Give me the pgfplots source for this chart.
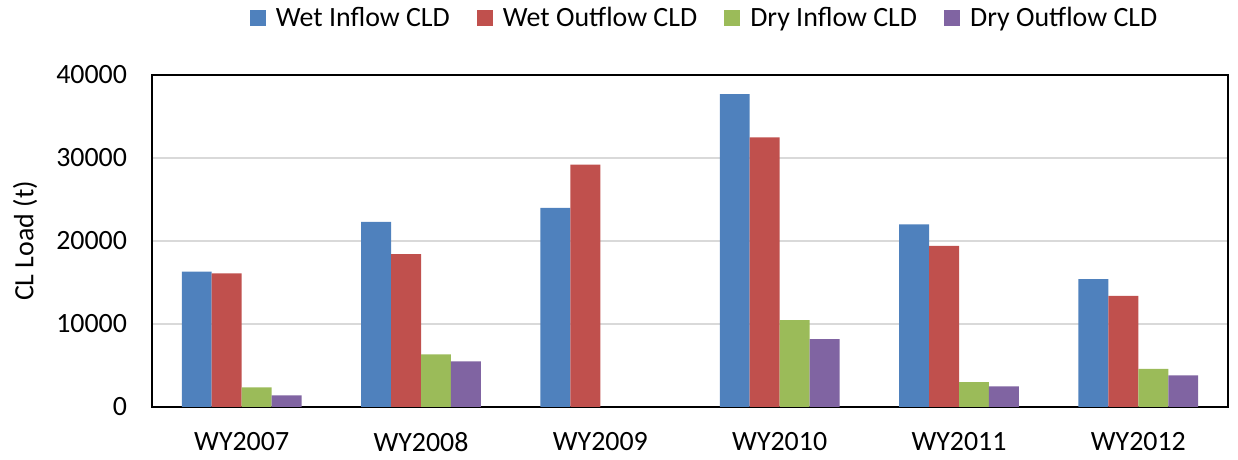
\documentclass[border=0pt]{standalone}
\usepackage{fontspec}
\setmainfont{Carlito}
\usepackage{pgfplots}
\pgfplotsset{compat=1.18}
\definecolor{cBlue}{HTML}{4F81BD}
\definecolor{cRed}{HTML}{C0504D}
\definecolor{cGreen}{HTML}{9BBB59}
\definecolor{cPurple}{HTML}{8064A2}
\definecolor{cGrid}{HTML}{D9D9D9}
\begin{document}
\begin{tikzpicture}
\begin{axis}[
  at={(0,0)}, anchor=south west,
  scale only axis,
  width=538bp, height=166bp,
  xmin=-0.5, xmax=5.5,
  ymin=0, ymax=40000,
  ytick={0,10000,20000,30000,40000},
  xtick={0,1,2,3,4,5},
  xticklabels={WY2007,WY2008,WY2009,WY2010,WY2011,WY2012},
  scaled y ticks=false,
  /pgf/number format/assume math mode=true,
  yticklabel={\pgfmathprintnumber[fixed,1000 sep={}]{\tick}},
  tick label style={font=\fontsize{14}{16}\selectfont},
  xticklabel style={yshift=-9bp},
  yticklabel style={xshift=-9bp},
  major tick length=0pt,
  ymajorgrids,
  grid style={cGrid, line width=1bp},
  axis line style={black, line width=1.1bp},
  ylabel={CL Load (t)},
  ylabel style={font=\fontsize{14}{16}\selectfont, at={(axis description cs:-0.118,0.5)}, anchor=center},
  bar width=0.167,
  legend columns=4,
  legend style={draw=none, fill=none, at={(0.514,1.172)}, anchor=center,
    font=\fontsize{14}{16}\selectfont,
    /tikz/every odd column/.append style={column sep=3.5bp},
    /tikz/every even column/.append style={column sep=12bp},
    nodes={inner sep=1.5bp}},
  legend image code/.code={\fill[#1] (0bp,-4bp) rectangle (8bp,4bp);},
]
\addplot[ybar, fill=cBlue, draw=none, bar shift=-0.2505] coordinates {(0,16300) (1,22300) (2,24000) (3,37700) (4,22000) (5,15400)};
\addplot[ybar, fill=cRed, draw=none, bar shift=-0.0835] coordinates {(0,16100) (1,18430) (2,29200) (3,32500) (4,19400) (5,13400)};
\addplot[ybar, fill=cGreen, draw=none, bar shift=0.0835] coordinates {(0,2370) (1,6350) (3,10480) (4,3000) (5,4600)};
\addplot[ybar, fill=cPurple, draw=none, bar shift=0.2505] coordinates {(0,1400) (1,5500) (3,8190) (4,2500) (5,3800)};
\legend{Wet Inflow CLD, Wet Outflow CLD, Dry Inflow CLD, Dry Outflow CLD}
\end{axis}
\pgfresetboundingbox
\path[use as bounding box] (-76bp,-26.5bp) rectangle (543bp,203.5bp);
\end{tikzpicture}
\end{document}
